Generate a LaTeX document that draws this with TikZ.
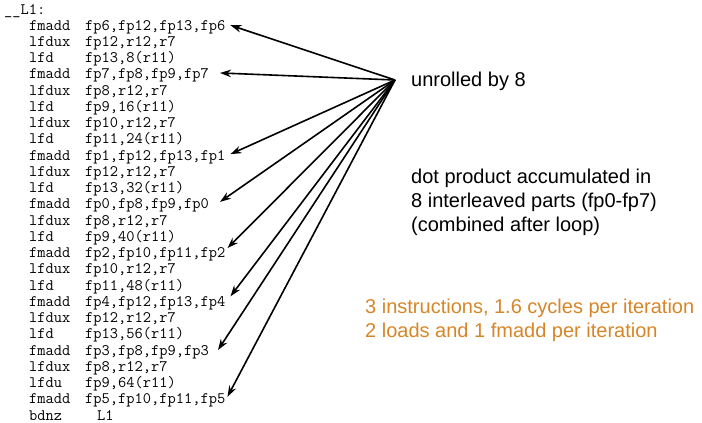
\documentclass[tikz,border=0pt]{standalone}
\usepackage{fontspec}
\newfontfamily\labfont{Liberation Sans}
\usetikzlibrary{arrows.meta}
\definecolor{orangetxt}{RGB}{214,134,40}
\begin{document}
\begin{tikzpicture}[x=1pt,y=-1pt,
  code/.style={anchor=base west,inner sep=0pt,font=\fontsize{16}{16}\selectfont\ttfamily},
  lab/.style={anchor=base west,inner sep=0pt,font=\fontsize{20}{24}\selectfont\labfont},
  note/.style={lab,text=orangetxt},
  ptr/.style={line width=1.6pt,-{Stealth[length=11pt,width=7.5pt]}}]
\useasboundingbox (0,0) rectangle (702,423);
\node[code] (lbl) at (4,14) {\_\_L1:};
\foreach \k/\mn/\op in {
  1/fmadd/{fp6,fp12,fp13,fp6},
  2/lfdux/{fp12,r12,r7},
  3/lfd/{fp13,8(r11)},
  4/fmadd/{fp7,fp8,fp9,fp7},
  5/lfdux/{fp8,r12,r7},
  6/lfd/{fp9,16(r11)},
  7/lfdux/{fp10,r12,r7},
  8/lfd/{fp11,24(r11)},
  9/fmadd/{fp1,fp12,fp13,fp1},
  10/lfdux/{fp12,r12,r7},
  11/lfd/{fp13,32(r11)},
  12/fmadd/{fp0,fp8,fp9,fp0},
  13/lfdux/{fp8,r12,r7},
  14/lfd/{fp9,40(r11)},
  15/fmadd/{fp2,fp10,fp11,fp2},
  16/lfdux/{fp10,r12,r7},
  17/lfd/{fp11,48(r11)},
  18/fmadd/{fp4,fp12,fp13,fp4},
  19/lfdux/{fp12,r12,r7},
  20/lfd/{fp13,56(r11)},
  21/fmadd/{fp3,fp8,fp9,fp3},
  22/lfdux/{fp8,r12,r7},
  23/lfdu/{fp9,64(r11)},
  24/fmadd/{fp5,fp10,fp11,fp5}}{
  \node[code] (m\k) at (29,14+16.24*\k) {\mn};
  \node[code] (c\k) at (85,14+16.24*\k) {\op};
}
\node[code] (m25) at (29,14+16.24*25) {bdnz};
\node[code] (c25) at (97,14+16.24*25) {L1};

\coordinate (hub) at (395,80);
\draw[ptr] (hub) -- ([xshift=5pt,yshift=5pt]c1.base east);
\draw[ptr] (hub) -- ([xshift=11pt,yshift=6pt]c4.base east);
\draw[ptr] (hub) -- ([xshift=5pt,yshift=6pt]c9.base east);
\draw[ptr] (hub) -- ([xshift=11pt,yshift=7pt]c12.base east);
\draw[ptr] (hub) -- ([xshift=2pt,yshift=9.5pt]c15.base east);
\draw[ptr] (hub) -- ([xshift=5pt,yshift=10pt]c18.base east);
\draw[ptr] (hub) -- ([xshift=9pt,yshift=5pt]c21.base east);
\draw[ptr] (hub) -- ([xshift=2pt,yshift=7pt]c24.base east);

\node[lab] (unr) at (411,86) {unrolled by 8};
\node[lab] (dot1) at (411,183) {dot product accumulated in};
\node[lab] (dot2) at (411,207) {8 interleaved parts (fp0-fp7)};
\node[lab] (dot3) at (411,231) {(combined after loop)};
\node[note] (ins1) at (365,313) {3 instructions, 1.6 cycles per iteration};
\node[note] (ins2) at (365,337) {2 loads and 1 fmadd per iteration};
\end{tikzpicture}
\end{document}
